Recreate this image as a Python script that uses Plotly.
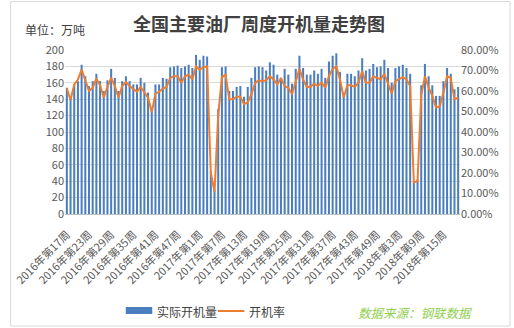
import plotly.graph_objects as go

# ---------------- data ----------------
years = [2016] * 36 + [2017] * 52 + [2018] * 19
week_nums = list(range(17, 53)) + list(range(1, 53)) + list(range(1, 20))
weeks = [f"{y}年第{w}周" for y, w in zip(years, week_nums)]

# 实际开机量 (万吨)
volume = [
    154, 142, 158, 162, 182, 168, 156, 162, 171, 162,
    150, 163, 177, 166, 150, 162, 168, 162, 158, 158,
    166, 160, 148, 130, 158, 158, 166, 165, 179, 180,
    181, 178, 180, 182, 178, 194, 188, 193, 192, 52,
    30, 128, 179, 180, 150, 150, 155, 156, 143, 155,
    166, 179, 180, 179, 175, 185, 182, 170, 166, 177,
    170, 159, 177, 193, 178, 170, 170, 175, 171, 177,
    166, 186, 193, 196, 173, 148, 171, 171, 168, 175,
    190, 175, 177, 183, 179, 180, 188, 178, 160, 178,
    180, 182, 178, 171, 40, 42, 157, 183, 168, 157,
    144, 144, 162, 178, 171, 152, 155,
]

# 开机率 (%)
rate = [
    61.2, 55.6, 63.2, 65.6, 70.4, 64.8, 60.0, 61.6, 66.0, 62.8,
    56.8, 62.0, 66.4, 62.4, 56.8, 62.4, 64.4, 62.4, 60.8, 59.6,
    62.0, 59.6, 56.8, 49.6, 58.8, 59.6, 61.2, 62.0, 66.4, 67.2,
    67.2, 64.0, 67.2, 68.0, 65.6, 72.0, 70.4, 71.6, 72.0, 20.0,
    10.8, 48.0, 66.8, 68.0, 56.0, 56.0, 57.2, 57.2, 53.6, 54.4,
    58.4, 64.0, 65.2, 64.8, 65.2, 67.2, 65.6, 63.2, 66.4, 62.4,
    61.6, 58.4, 64.8, 70.8, 65.6, 62.0, 62.0, 63.6, 62.4, 64.0,
    61.6, 67.2, 70.8, 72.0, 65.6, 56.8, 62.8, 62.8, 62.0, 64.0,
    69.6, 64.0, 64.0, 67.2, 66.4, 65.6, 68.4, 63.6, 58.8, 64.8,
    65.6, 66.8, 65.6, 62.4, 15.4, 16.0, 58.0, 67.2, 61.6, 57.6,
    52.0, 52.4, 59.2, 67.2, 66.4, 56.0, 56.8,
]

tick_labels = weeks[::6]

title_text = "全国主要油厂周度开机量走势图"
unit_text = "单位：万吨"
legend_names = ["实际开机量", "开机率"]
source_text = "数据来源：钢联数据"

# ---------------- layout helpers ----------------
W, H = 514, 328
ML, MR, MT, MB = 57, 54, 50, 114
PW = W - ML - MR
PH = H - MT - MB


def px(x):
    return (x - ML) / PW


def py(y):
    return (H - MB - y) / PH


FONT = "Noto Sans CJK SC, Noto Sans, sans-serif"
BLUE = "#4a7ebf"
ORANGE = "#ed7d31"

fig = go.Figure()
fig.add_trace(go.Bar(
    x=weeks, y=volume, name=legend_names[0],
    marker=dict(color=BLUE, line=dict(width=0)),
    yaxis="y",
))
fig.add_trace(go.Scatter(
    x=weeks, y=rate, name=legend_names[1], mode="lines",
    line=dict(color=ORANGE, width=2),
    yaxis="y2",
))

fig.update_layout(
    width=W, height=H,
    margin=dict(l=ML, r=MR, t=MT, b=MB),
    paper_bgcolor="white", plot_bgcolor="white",
    showlegend=False,
    bargap=0.45,
    font=dict(family=FONT, color="#595959", size=11),
    xaxis=dict(
        type="category", categoryorder="array", categoryarray=weeks,
        range=[-0.5, len(weeks) - 0.5],
        tickmode="array", tickvals=tick_labels, ticktext=tick_labels,
        tickangle=-45, tickfont=dict(size=11, color="#595959"),
        ticklabelstandoff=9,
        showgrid=False, showline=True, linecolor="#bfbfbf", linewidth=1,
        ticks="", zeroline=False,
    ),
    yaxis=dict(
        range=[0, 200], dtick=20, tick0=0,
        showgrid=True, gridcolor="#d9d9d9", gridwidth=1,
        zeroline=False, showline=False, ticks="",
        tickfont=dict(size=11, color="#595959"),
    ),
    yaxis2=dict(
        range=[0, 80], dtick=10, tick0=0,
        overlaying="y", side="right",
        ticksuffix="%", tickformat=".2f",
        showgrid=False, zeroline=False, showline=False, ticks="",
        tickfont=dict(size=11, color="#595959"),
    ),
)

annotations = [
    dict(text="<b>" + title_text + "</b>", x=px(255), y=py(23), xref="paper", yref="paper",
         showarrow=False, xanchor="center", yanchor="middle",
         font=dict(size=18, color="#404040", family=FONT)),
    dict(text=unit_text, x=px(14), y=py(30), xref="paper", yref="paper",
         showarrow=False, xanchor="left", yanchor="middle",
         font=dict(size=12, color="#404040", family=FONT)),
    dict(text=legend_names[0], x=px(149), y=py(311), xref="paper", yref="paper",
         showarrow=False, xanchor="left", yanchor="middle",
         font=dict(size=12, color="#404040", family=FONT)),
    dict(text=legend_names[1], x=px(243), y=py(311), xref="paper", yref="paper",
         showarrow=False, xanchor="left", yanchor="middle",
         font=dict(size=12, color="#404040", family=FONT)),
    dict(text="<i>" + source_text + "</i>", x=px(354), y=py(312), xref="paper", yref="paper",
         showarrow=False, xanchor="left", yanchor="middle",
         font=dict(size=12.5, color="#92d050", family=FONT)),
]

shapes = [
    dict(type="rect", xref="paper", yref="paper",
         x0=px(119), x1=px(146), y0=py(314), y1=py(307),
         fillcolor=BLUE, line=dict(width=0)),
    dict(type="line", xref="paper", yref="paper",
         x0=px(213), x1=px(240), y0=py(311), y1=py(311),
         line=dict(color=ORANGE, width=2)),
    dict(type="rect", xref="paper", yref="paper",
         x0=px(1.5), x1=px(511), y0=py(326), y1=py(1.5),
         line=dict(color="#d9d9d9", width=1), fillcolor="rgba(0,0,0,0)",
         layer="below"),
]

fig.update_layout(annotations=annotations, shapes=shapes)

fig.write_html("out.html")
